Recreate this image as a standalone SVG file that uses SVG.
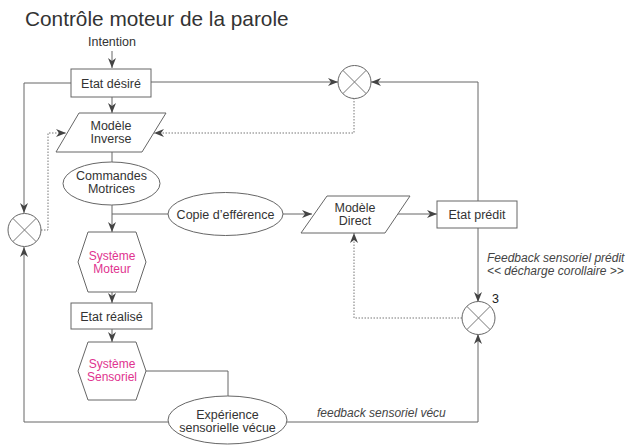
<svg xmlns="http://www.w3.org/2000/svg" width="628" height="446" viewBox="0 0 628 446">
<style>
text{font-family:"Liberation Sans",Arial,sans-serif;fill:#333;font-size:12.5px;text-anchor:middle}
.title{font-size:20.8px;text-anchor:start}
.mag{fill:#e0338f;font-size:12px}
.it{font-style:italic;text-anchor:start;font-size:12px;fill:#444}
.shape{fill:#fff;stroke:#666;stroke-width:1}
.ln{fill:none;stroke:#666;stroke-width:1}
.dot{fill:none;stroke:#777;stroke-width:1;stroke-dasharray:1.5 1.5}
.x{stroke:#777;stroke-width:1}
</style>
<defs>
<marker id="ar" viewBox="0 0 10 8" refX="10" refY="4" markerWidth="10" markerHeight="8" markerUnits="userSpaceOnUse" orient="auto">
<path d="M0,0 L10,4 L0,8 L3,4 z" fill="#444"/>
</marker>
</defs>
<rect width="628" height="446" fill="#fff"/>
<text class="title" x="25" y="26">Contrôle moteur de la parole</text>
<g id="connectors">
<line class="ln" x1="112" y1="51" x2="112" y2="68" marker-end="url(#ar)"/>
<line class="ln" x1="112" y1="97" x2="112" y2="113" marker-end="url(#ar)"/>
<line class="ln" x1="151" y1="82" x2="338" y2="82" marker-end="url(#ar)"/>
<polyline class="ln" points="478,201 478,82 371,82" marker-end="url(#ar)"/>
<polyline class="dot" points="354,98 354,133 154,133" marker-end="url(#ar)"/>
<polyline class="ln" points="71,83 24,83 24,213" marker-end="url(#ar)"/>
<polyline class="dot" points="41,230 48,230 48,133 66,133" marker-end="url(#ar)"/>
<line class="ln" x1="112" y1="152" x2="112" y2="162"/>
<line class="ln" x1="112" y1="205" x2="112" y2="232" marker-end="url(#ar)"/>
<line class="ln" x1="112" y1="214" x2="168" y2="214"/>
<line class="ln" x1="283" y1="214" x2="312" y2="214" marker-end="url(#ar)"/>
<line class="ln" x1="397" y1="214" x2="437" y2="214" marker-end="url(#ar)"/>
<line class="ln" x1="478" y1="228" x2="478" y2="302" marker-end="url(#ar)"/>
<polyline class="dot" points="462,318 354,318 354,233" marker-end="url(#ar)"/>
<line class="ln" x1="112" y1="292" x2="112" y2="303" marker-end="url(#ar)"/>
<line class="ln" x1="112" y1="329" x2="112" y2="342" marker-end="url(#ar)"/>
<polyline class="ln" points="146,371 228,371 228,396"/>
<polyline class="ln" points="287,422 478,422 478,334" marker-end="url(#ar)"/>
<polyline class="ln" points="168,422 24,422 24,247" marker-end="url(#ar)"/>
</g>
<g id="intention"><text x="112" y="46">Intention</text></g>
<g id="etat-desire">
<rect class="shape" x="71" y="69" width="80" height="28"/>
<text x="111" y="87.5">Etat désiré</text>
</g>
<g id="comparateur-2">
<circle class="shape" cx="354.5" cy="82" r="16.5"/>
<line class="x" x1="342.8" y1="70.3" x2="366.2" y2="93.7"/>
<line class="x" x1="366.2" y1="70.3" x2="342.8" y2="93.7"/>
</g>
<g id="modele-inverse">
<polygon class="shape" points="79,113 166,113 142,152 56,152"/>
<text x="111" y="130">Modèle</text>
<text x="111" y="143">Inverse</text>
</g>
<g id="comparateur-1">
<circle class="shape" cx="24.5" cy="230" r="16.5"/>
<line class="x" x1="12.8" y1="218.3" x2="36.2" y2="241.7"/>
<line class="x" x1="36.2" y1="218.3" x2="12.8" y2="241.7"/>
</g>
<g id="commandes-motrices">
<ellipse class="shape" cx="111.5" cy="183.5" rx="48.5" ry="21.5"/>
<text x="111.5" y="180">Commandes</text>
<text x="111.5" y="193">Motrices</text>
</g>
<g id="copie-efference">
<ellipse class="shape" cx="225.5" cy="214" rx="57.5" ry="21.5"/>
<text x="225.5" y="218.5">Copie d’efférence</text>
</g>
<g id="modele-direct">
<polygon class="shape" points="327,196 410,196 385,233 301,233"/>
<text x="355" y="212">Modèle</text>
<text x="355" y="225">Direct</text>
</g>
<g id="etat-predit">
<rect class="shape" x="437" y="201" width="80" height="27"/>
<text x="477" y="218.5">Etat prédit</text>
</g>
<g id="label-predit">
<text class="it" x="487" y="262">Feedback sensoriel prédit</text>
<text class="it" x="487" y="275">&lt;&lt; décharge corollaire &gt;&gt;</text>
</g>
<g id="comparateur-3">
<circle class="shape" cx="478.5" cy="318" r="16.5"/>
<line class="x" x1="466.8" y1="306.3" x2="490.2" y2="329.7"/>
<line class="x" x1="490.2" y1="306.3" x2="466.8" y2="329.7"/>
<text x="492" y="303" style="text-anchor:start;fill:#222">3</text>
</g>
<g id="systeme-moteur">
<polygon class="shape" points="88,232 136,232 146,262 136,292 88,292 78,262"/>
<text class="mag" x="112" y="260">Système</text>
<text class="mag" x="112" y="273">Moteur</text>
</g>
<g id="etat-realise">
<rect class="shape" x="71" y="303" width="81" height="26"/>
<text x="111.5" y="320.5">Etat réalisé</text>
</g>
<g id="systeme-sensoriel">
<polygon class="shape" points="88,342 136,342 146,371 136,400 88,400 78,371"/>
<text class="mag" x="112" y="368">Système</text>
<text class="mag" x="112" y="381">Sensoriel</text>
</g>
<g id="experience">
<ellipse class="shape" cx="227.5" cy="420" rx="59.5" ry="24"/>
<text x="227.5" y="419">Expérience</text>
<text x="227.5" y="432">sensorielle vécue</text>
</g>
<g id="label-vecu">
<text class="it" x="317" y="417">feedback sensoriel vécu</text>
</g>
</svg>
